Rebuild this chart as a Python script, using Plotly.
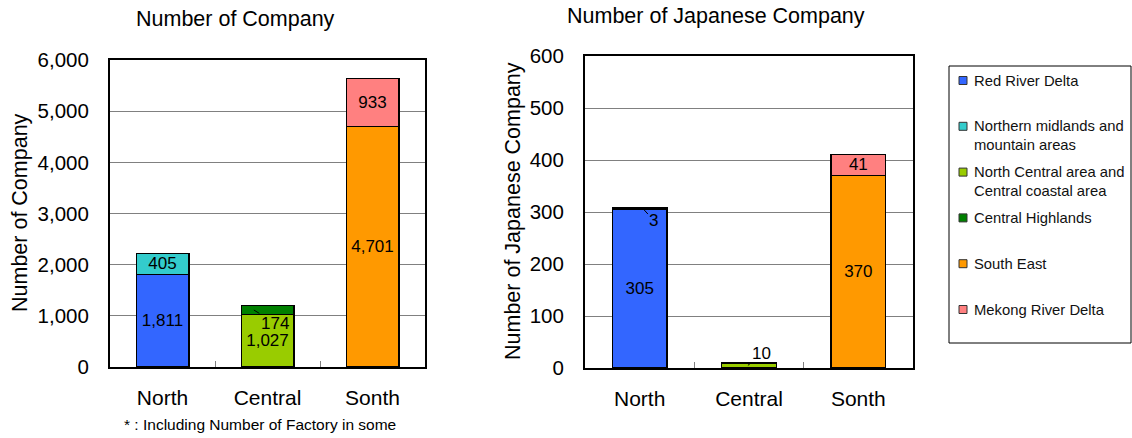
import plotly.graph_objects as go

W, H = 1132, 438
FONT = "Liberation Sans, Arial, sans-serif"

categories = ["North", "Central", "Sonth"]

series_names = [
    "Red River Delta",
    "Northern midlands and mountain areas",
    "North Central area and Central coastal area",
    "Central Highlands",
    "South East",
    "Mekong River Delta",
]
legend_labels = [
    "Red River Delta",
    "Northern midlands and<br>mountain areas",
    "North Central area and<br>Central coastal area",
    "Central Highlands",
    "South East",
    "Mekong River Delta",
]
series_colors = ["#3366FF", "#33CCCC", "#99CC00", "#008000", "#FF9900", "#FF8080"]

# Number of companies per region (None = region not part of that area)
company_red_river = [1811, None, None]
company_northern_midlands = [405, None, None]
company_north_central = [None, 1027, None]
company_central_highlands = [None, 174, None]
company_south_east = [None, None, 4701]
company_mekong = [None, None, 933]

# Number of Japanese companies per region
japanese_red_river = [305, None, None]
japanese_northern_midlands = [3, None, None]
japanese_north_central = [None, 10, None]
japanese_central_highlands = [None, None, None]
japanese_south_east = [None, None, 370]
japanese_mekong = [None, None, 41]

company_series = [company_red_river, company_northern_midlands, company_north_central,
                  company_central_highlands, company_south_east, company_mekong]
japanese_series = [japanese_red_river, japanese_northern_midlands, japanese_north_central,
                   japanese_central_highlands, japanese_south_east, japanese_mekong]

company_ticks = [0, 1000, 2000, 3000, 4000, 5000, 6000]
japanese_ticks = [0, 100, 200, 300, 400, 500, 600]

# Small segments labelled with a leader line: (series index, category index, dx, ax, ay)
company_callouts = [(3, 1, -0.13, 21, 13)]
japanese_callouts = [(1, 0, 0.03, 11, 12), (2, 1, -0.01, 14, -12)]


def px_x(x):
    return x / W


def px_y(y):
    return 1 - y / H


fig = go.Figure()


def add_chart(series, callouts, xaxis, yaxis):
    callout_keys = {(s, c) for s, c, *_ in callouts}
    for si, (name, color, values) in enumerate(zip(series_names, series_colors, series)):
        text = []
        for ci, v in enumerate(values):
            if v is None or (si, ci) in callout_keys:
                text.append("")
            else:
                text.append(f"{v:,}")
        fig.add_trace(go.Bar(
            x=categories, y=values, name=name, xaxis=xaxis, yaxis=yaxis,
            marker=dict(color=color, line=dict(color="black", width=1.5)),
            width=0.5, text=text, textposition="inside", insidetextanchor="middle",
            textangle=0, constraintext="none",
            textfont=dict(family=FONT, size=17, color="black"),
            showlegend=False, hoverinfo="skip",
        ))
    for si, ci, dx, ax, ay in callouts:
        values = series[si]
        base = sum(s[ci] for s in series[:si] if s[ci] is not None)
        v = values[ci]
        fig.add_annotation(
            x=ci + dx, y=base + v / 2, xref=xaxis, yref=yaxis,
            text=f"{v:,}", showarrow=True, arrowhead=0, arrowwidth=1,
            arrowcolor="black", ax=ax, ay=ay, standoff=0,
            font=dict(family=FONT, size=17, color="black"),
        )


add_chart(company_series, company_callouts, "x", "y")
add_chart(japanese_series, japanese_callouts, "x2", "y2")

xaxis_common = dict(
    type="category", range=[-0.5, 2.5], tickson="boundaries",
    ticks="inside", ticklen=6, tickcolor="#808080", tickwidth=1,
    showline=True, linecolor="black", linewidth=2, mirror=True,
    showgrid=False, tickfont=dict(family=FONT, size=21, color="black"),
    ticklabelstandoff=11, automargin=False, fixedrange=True,
)
yaxis_common = dict(
    showline=True, linecolor="black", linewidth=2, mirror=True,
    showgrid=True, gridcolor="#808080", gridwidth=1, ticks="",
    tickfont=dict(family=FONT, size=20.5, color="black"),
    ticklabelstandoff=15, zeroline=False, automargin=False, fixedrange=True,
)

fig.update_layout(
    width=W, height=H, autosize=False,
    margin=dict(l=0, r=0, t=0, b=0, pad=0, autoexpand=False),
    paper_bgcolor="white", plot_bgcolor="white",
    barmode="stack", showlegend=False,
    font=dict(family=FONT, color="black"),
    xaxis=dict(domain=[px_x(110), px_x(425)], anchor="y", **xaxis_common),
    yaxis=dict(domain=[px_y(367), px_y(60)], anchor="x", range=[0, 6000],
               tickvals=company_ticks, tickformat=",d", **yaxis_common),
    xaxis2=dict(domain=[px_x(585), px_x(913)], anchor="y2", **xaxis_common),
    yaxis2=dict(domain=[px_y(368), px_y(56)], anchor="x2", range=[0, 600],
                tickvals=japanese_ticks, tickformat=",d", **yaxis_common),
)


def paper_text(x, y, text, size, angle=0, xanchor="center", color="black"):
    fig.add_annotation(x=px_x(x), y=px_y(y), xref="paper", yref="paper",
                       text=text, showarrow=False, textangle=angle,
                       xanchor=xanchor, yanchor="middle", align="left",
                       font=dict(family=FONT, size=size, color=color))


# Chart titles, axis titles and footnote
paper_text(235, 19, "Number of Company", 21.5)
paper_text(716, 16, "Number of Japanese Company", 21.5)
paper_text(20, 213, "Number of Company", 21.5, angle=-90)
paper_text(513, 211, "Number of Japanese Company", 21.5, angle=-90)
paper_text(260, 424, "* : Including Number of Factory in some", 15.5)

# Legend box with colour swatches
fig.add_shape(type="rect", xref="paper", yref="paper",
              x0=px_x(949), x1=px_x(1131), y0=px_y(343), y1=px_y(66),
              line=dict(color="black", width=1), fillcolor="white", layer="below")
legend_top = 80.5
legend_step = 45.8
line_gap = 18.3
for i, (label, color) in enumerate(zip(legend_labels, series_colors)):
    cy = legend_top + i * legend_step
    fig.add_shape(type="rect", xref="paper", yref="paper",
                  x0=px_x(959), x1=px_x(967), y0=px_y(cy + 4), y1=px_y(cy - 4),
                  line=dict(color="#333333", width=1), fillcolor=color)
    n_lines = label.count("<br>") + 1
    paper_text(972, cy + (n_lines - 1) * line_gap / 2, label, 14.8,
               xanchor="left", color="#111111")

fig.write_html("out.html")
